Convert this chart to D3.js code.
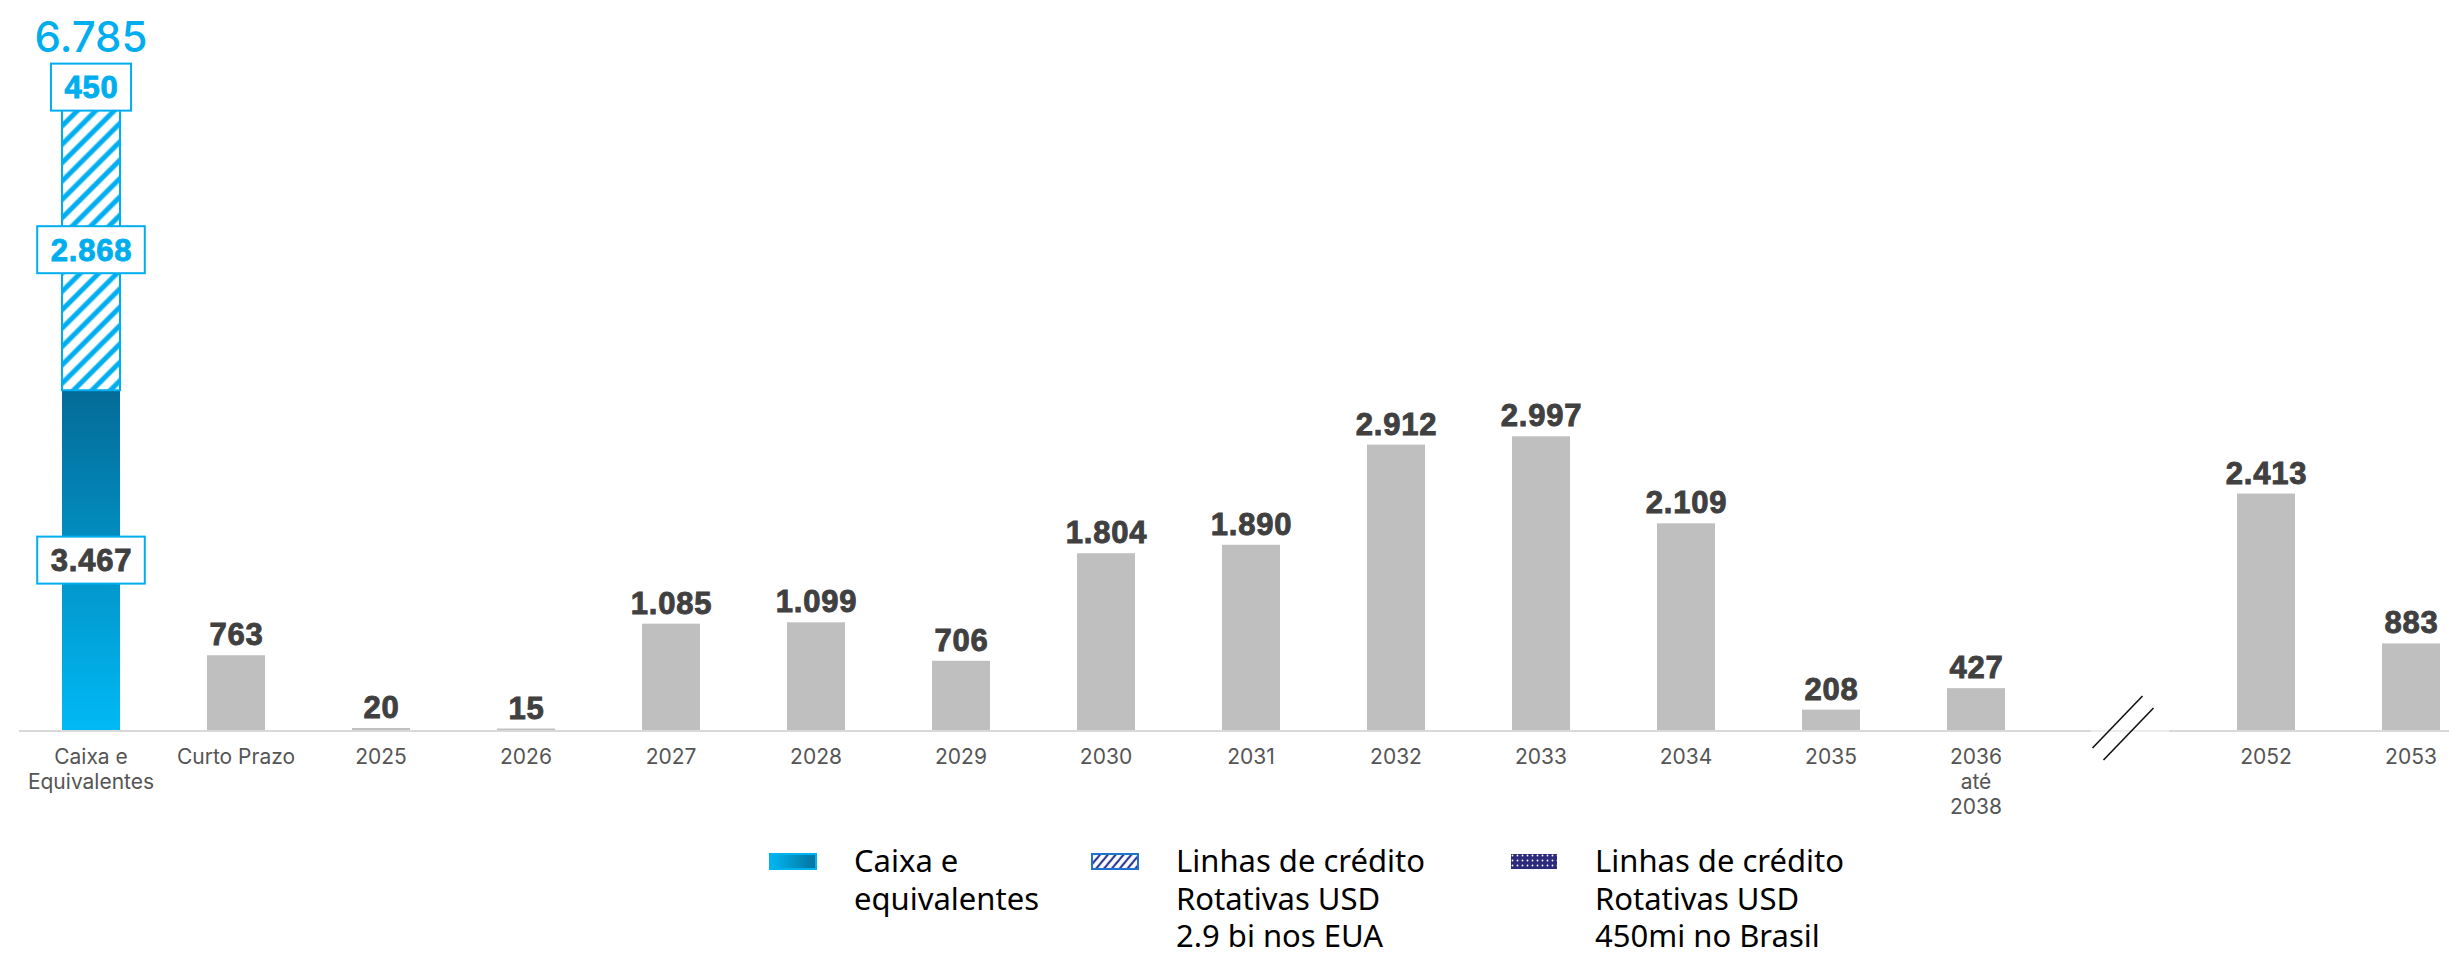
<!DOCTYPE html>
<html>
<head>
<meta charset="utf-8">
<script src="https://cdn.jsdelivr.net/npm/d3@7"></script>
<style>
  body { margin: 0; background: #fff; }
  svg { display: block; }
</style>
</head>
<body>
<svg id="chart" width="2449" height="955"></svg>
<script>
// categories on the x axis ('' = the break slot)
var categories = ['Caixa e\nEquivalentes', 'Curto Prazo', '2025', '2026', '2027', '2028', '2029',
    '2030', '2031', '2032', '2033', '2034', '2035', '2036\naté\n2038', '', '2052', '2053'];

// amortization schedule (grey bars)
var debt = [null, 763, 20, 15, 1085, 1099, 706, 1804, 1890, 2912, 2997, 2109, 208, 427, null, 2413, 883];

// liquidity stack of the first bar
var liqKeys   = ['caixa', 'rcfUsa', 'rcfBrasil'];
var liqValues = [3467, 2868, 450];

var legendLabels = [
    ['Caixa e', 'equivalentes'],
    ['Linhas de crédito', 'Rotativas USD', '2.9 bi nos EUA'],
    ['Linhas de crédito', 'Rotativas USD', '450mi no Brasil']
];

(function(){
    var W = 2449, H = 955;
    var base = 730;

    var cyan = '#00aeef',
        grey = '#bfbfbf',
        dark = '#404040',
        navy = '#2c2a7c';

    var ptBR = d3.formatLocale({decimal: ',', thousands: '.', grouping: [3], currency: ['R$', '']});
    var fmt = ptBR.format(',d');

    var svg = d3.select('#chart');

    var x = d3.scaleBand()
        .domain(categories)
        .range([18.5, 2483.5])
        .paddingInner(0.6)
        .paddingOuter(0.3);

    var y = d3.scaleLinear()
        .domain([0, 7000])
        .range([base, 44]);

    var bw = x.bandwidth();

    // bold number style used for bar values and boxed labels
    function numStyle(sel){
        sel.style('font-family', '"Liberation Sans", Arial, sans-serif')
            .style('font-weight', 700)
            .style('font-size', '31px')
            .style('letter-spacing', '0.8px')
            .style('stroke-width', '0.9px')
            .style('paint-order', 'stroke');
    }

    // ---- defs: gradient + patterns
    var defs = svg.append('defs');

    var g1 = defs.append('linearGradient').attr('id', 'cashGrad')
        .attr('x1', 0).attr('y1', 0).attr('x2', 0).attr('y2', 1);
    g1.append('stop').attr('offset', '0%').attr('stop-color', '#046b97');
    g1.append('stop').attr('offset', '100%').attr('stop-color', '#00b9f5');

    var g2 = defs.append('linearGradient').attr('id', 'cashGradH')
        .attr('x1', 0).attr('y1', 0).attr('x2', 1).attr('y2', 0);
    g2.append('stop').attr('offset', '0%').attr('stop-color', '#00b7f2');
    g2.append('stop').attr('offset', '100%').attr('stop-color', '#04739f');

    var hatch = defs.append('pattern').attr('id', 'hatch')
        .attr('patternUnits', 'userSpaceOnUse')
        .attr('width', 13).attr('height', 13)
        .attr('patternTransform', 'rotate(45)');
    hatch.append('rect').attr('width', 13).attr('height', 13).attr('fill', '#fff');
    hatch.append('line').attr('x1', 3).attr('y1', 0).attr('x2', 3).attr('y2', 13)
        .attr('stroke', cyan).attr('stroke-width', 5);

    var hatchSm = defs.append('pattern').attr('id', 'hatchSm')
        .attr('patternUnits', 'userSpaceOnUse')
        .attr('width', 6).attr('height', 6)
        .attr('patternTransform', 'rotate(40)');
    hatchSm.append('rect').attr('width', 6).attr('height', 6).attr('fill', '#fff');
    hatchSm.append('line').attr('x1', 2).attr('y1', 0).attr('x2', 2).attr('y2', 6)
        .attr('stroke', '#2d3a9a').attr('stroke-width', 2.2);

    var dots = defs.append('pattern').attr('id', 'dots')
        .attr('patternUnits', 'userSpaceOnUse')
        .attr('width', 5).attr('height', 5);
    dots.append('rect').attr('width', 5).attr('height', 5).attr('fill', navy);
    dots.append('circle').attr('cx', 2.5).attr('cy', 2.5).attr('r', 0.9).attr('fill', '#fff');

    // ---- axis line (lighter across the break)
    var bx = x('') + bw / 2;
    svg.append('line')
        .attr('x1', 19).attr('x2', bx - 30).attr('y1', base + 1).attr('y2', base + 1)
        .attr('stroke', '#d9d9d9').attr('stroke-width', 2);
    svg.append('line')
        .attr('x1', bx - 30).attr('x2', bx + 48).attr('y1', base + 1).attr('y2', base + 1)
        .attr('stroke', '#ececec').attr('stroke-width', 2);
    svg.append('line')
        .attr('x1', bx + 48).attr('x2', W).attr('y1', base + 1).attr('y2', base + 1)
        .attr('stroke', '#d9d9d9').attr('stroke-width', 2);

    // break marks
    svg.selectAll('.brk').data([0, 1]).enter().append('line')
        .attr('class', 'brk')
        .attr('x1', function(d){ return bx - 28.5 + d * 11 })
        .attr('y1', function(d){ return base + 18 + d * 12 })
        .attr('x2', function(d){ return bx + 21.5 + d * 11 })
        .attr('y2', function(d){ return base - 34 + d * 12 })
        .attr('stroke', '#111').attr('stroke-width', 1.6);

    // ---- grey debt bars
    var debtData = categories.map(function(c, i){ return {cat: c, v: debt[i]} })
        .filter(function(d){ return d.v != null });

    svg.selectAll('.bar').data(debtData).enter().append('rect')
        .attr('class', 'bar')
        .attr('x', function(d){ return x(d.cat) })
        .attr('width', bw)
        .attr('y', function(d){ return y(d.v) })
        .attr('height', function(d){ return base - y(d.v) })
        .attr('fill', grey);

    svg.selectAll('.val').data(debtData).enter().append('text')
        .attr('class', 'val')
        .attr('x', function(d){ return x(d.cat) + bw / 2 + 0.5 })
        .attr('y', function(d){ return y(d.v) - 10 })
        .attr('text-anchor', 'middle')
        .call(numStyle)
        .style('fill', dark)
        .style('stroke', dark)
        .text(function(d){ return fmt(d.v) });

    // ---- liquidity stack
    var stackRow = {};
    liqKeys.forEach(function(k, i){ stackRow[k] = liqValues[i] });
    var series = d3.stack().keys(liqKeys)([stackRow]);

    var fills = {caixa: 'url(#cashGrad)', rcfUsa: 'url(#hatch)', rcfBrasil: 'url(#dots)'};
    var cx0 = x(categories[0]);

    svg.selectAll('.liq').data(series).enter().append('rect')
        .attr('class', 'liq')
        .attr('x', cx0)
        .attr('width', bw)
        .attr('y', function(d){ return y(d[0][1]) })
        .attr('height', function(d){ return y(d[0][0]) - y(d[0][1]) })
        .attr('fill', function(d){ return fills[d.key] })
        .attr('stroke', function(d){ return d.key == 'rcfUsa' ? cyan : 'none' })
        .attr('stroke-width', 2);

    // boxed labels on each segment
    var boxes = svg.selectAll('.box').data(series).enter().append('g')
        .attr('class', 'box')
        .attr('transform', function(d){
            return 'translate(' + (cx0 + bw / 2) + ',' + ((y(d[0][0]) + y(d[0][1])) / 2) + ')';
        });
    boxes.append('text')
        .attr('x', 0.5)
        .attr('y', 11)
        .attr('text-anchor', 'middle')
        .call(numStyle)
        .style('fill', function(d){ return d.key == 'caixa' ? dark : cyan })
        .style('stroke', function(d){ return d.key == 'caixa' ? dark : cyan })
        .text(function(d){ return fmt(d[0][1] - d[0][0]) });
    boxes.insert('rect', 'text')
        .each(function(){
            var tw = this.parentNode.querySelector('text').getComputedTextLength();
            d3.select(this)
                .attr('x', -(tw / 2 + 13))
                .attr('width', tw + 26);
        })
        .attr('y', -23.5)
        .attr('height', 47)
        .attr('fill', '#fff')
        .attr('stroke', cyan)
        .attr('stroke-width', 2);

    // total on top
    svg.append('text')
        .attr('x', cx0 + bw / 2)
        .attr('y', 52)
        .attr('text-anchor', 'middle')
        .style('font-family', 'Inter, sans-serif')
        .style('font-weight', 500)
        .style('font-size', '42px')
        .style('fill', cyan)
        .text(fmt(d3.sum(liqValues)));

    // ---- category labels
    var axisG = svg.append('g')
        .attr('transform', 'translate(0,' + base + ')')
        .call(d3.axisBottom(x).tickSize(0).tickPadding(0));
    axisG.select('.domain').remove();
    axisG.selectAll('.tick text')
        .attr('font-family', null).attr('font-size', null)
        .style('font-family', 'Inter, sans-serif')
        .style('font-size', '21px')
        .style('fill', '#555')
        .each(function(d){
            var t = d3.select(this).text(null).attr('y', 34).attr('dy', null);
            d.split('\n').forEach(function(l, i){
                t.append('tspan').attr('x', 0).attr('dy', i ? 25 : 0).text(l);
            });
        });

    // ---- legend
    var legX = [769, 1091, 1510];
    var swFill = ['url(#cashGradH)', 'url(#hatchSm)', 'url(#dots)'];
    var swStroke = ['#00b2ee', '#1f72d0', 'none'];

    var leg = svg.selectAll('.leg').data(legendLabels).enter().append('g')
        .attr('class', 'leg')
        .attr('transform', function(d, i){ return 'translate(' + legX[i] + ',853)' });

    leg.append('rect')
        .attr('x', 1).attr('y', 1)
        .attr('width', 46).attr('height', 15)
        .attr('fill', function(d, i){ return swFill[i] })
        .attr('stroke', function(d, i){ return swStroke[i] })
        .attr('stroke-width', 2);

    leg.append('text')
        .style('font-family', '"Noto Sans", sans-serif')
        .style('font-size', '31px')
        .style('fill', '#000')
        .each(function(d){
            var t = d3.select(this);
            d.forEach(function(l, i){
                t.append('tspan').attr('x', 85).attr('y', 19 + i * 37.5).text(l);
            });
        });
})();
</script>
</body>
</html>
